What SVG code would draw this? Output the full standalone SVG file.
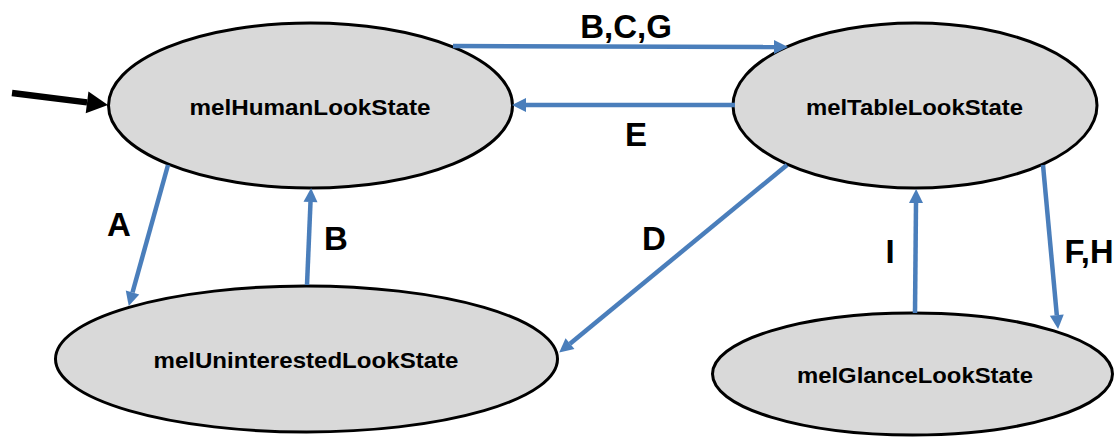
<svg xmlns="http://www.w3.org/2000/svg" width="1115" height="438" viewBox="0 0 1115 438">
  <style>
    .state { fill: #d9d9d9; stroke: #000; stroke-width: 3; }
    .state-label { font-family: "Liberation Sans", Arial, sans-serif; font-weight: bold; font-size: 22px; fill: #000; text-anchor: middle; }
    .edge { fill: none; stroke: #4a7ebb; stroke-width: 4.5; }
    .edge-label { font-family: "Liberation Sans", Arial, sans-serif; font-weight: bold; font-size: 33px; fill: #000; text-anchor: middle; }
    .start { fill: none; stroke: #000; stroke-width: 6.5; }
  </style>
  <defs>
    <marker id="arrow-blue" markerUnits="userSpaceOnUse" markerWidth="14" markerHeight="14" refX="0" refY="7" orient="auto" overflow="visible">
      <path d="M0,0 L14,7 L0,14 z" fill="#4a7ebb"/>
    </marker>
    <marker id="arrow-black" markerUnits="userSpaceOnUse" markerWidth="22" markerHeight="22" refX="0" refY="11" orient="auto" overflow="visible">
      <path d="M0,0 L21,11 L0,22 z" fill="#000"/>
    </marker>
  </defs>

  <rect width="1115" height="438" fill="#fff"/>

  <g id="node-human">
    <ellipse class="state" cx="310.5" cy="105.5" rx="202" ry="82.5"/>
    <text class="state-label" x="310" y="115" textLength="241" lengthAdjust="spacingAndGlyphs">melHumanLookState</text>
  </g>
  <g id="node-table">
    <ellipse class="state" cx="915" cy="105.5" rx="182" ry="82.5"/>
    <text class="state-label" x="914.5" y="115" textLength="217" lengthAdjust="spacingAndGlyphs">melTableLookState</text>
  </g>
  <g id="node-uninterested">
    <ellipse class="state" cx="306.5" cy="359" rx="251" ry="73"/>
    <text class="state-label" x="306" y="368" textLength="305" lengthAdjust="spacingAndGlyphs">melUninterestedLookState</text>
  </g>
  <g id="node-glance">
    <ellipse class="state" cx="912.5" cy="374" rx="200" ry="61"/>
    <text class="state-label" x="915" y="383" textLength="236" lengthAdjust="spacingAndGlyphs">melGlanceLookState</text>
  </g>

  <g id="connectors">
    <!-- initial state pointer -->
    <path class="start" d="M12,93 L87.1,102.4" marker-end="url(#arrow-black)"/>
    <!-- human -> table -->
    <path class="edge" d="M453,46 L774,47" marker-end="url(#arrow-blue)"/>
    <!-- table -> human -->
    <path class="edge" d="M735,105 L526,105" marker-end="url(#arrow-blue)"/>
    <!-- human -> uninterested -->
    <path class="edge" d="M168,165 L132.5,292.5" marker-end="url(#arrow-blue)"/>
    <!-- uninterested -> human -->
    <path class="edge" d="M307,285 L310.5,202" marker-end="url(#arrow-blue)"/>
    <!-- table -> uninterested -->
    <path class="edge" d="M787,165 L570,343.7" marker-end="url(#arrow-blue)"/>
    <!-- glance -> table -->
    <path class="edge" d="M915,313 L916,203" marker-end="url(#arrow-blue)"/>
    <!-- table -> glance -->
    <path class="edge" d="M1043,165 L1056.8,315.1" marker-end="url(#arrow-blue)"/>

    <text class="edge-label" x="626" y="38">B,C,G</text>
    <text class="edge-label" x="636" y="146">E</text>
    <text class="edge-label" x="119" y="236">A</text>
    <text class="edge-label" x="336" y="250">B</text>
    <text class="edge-label" x="654" y="250">D</text>
    <text class="edge-label" x="890" y="263">I</text>
    <text class="edge-label" x="1089" y="263" textLength="49" lengthAdjust="spacingAndGlyphs">F,H</text>
  </g>
</svg>
